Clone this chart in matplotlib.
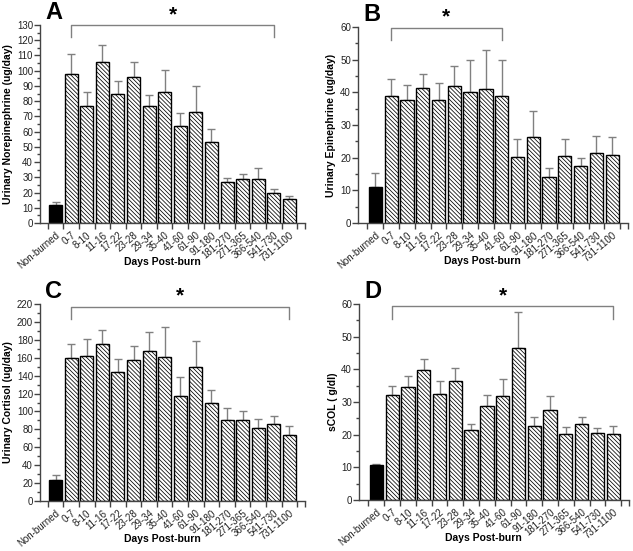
import numpy as np
import matplotlib
matplotlib.use("Agg")
import matplotlib.pyplot as plt
from matplotlib.ticker import MultipleLocator, FixedLocator

plt.rcParams['font.family'] = ['Liberation Sans', 'DejaVu Sans']
plt.rcParams['hatch.linewidth'] = 0.55
plt.rcParams['hatch.color'] = '#333333'

groups = ["Non-burned", "0-7", "8-10", "11-16", "17-22", "23-28", "29-34", "35-40",
          "41-60", "61-90", "91-180", "181-270", "271-365", "366-540", "541-730", "731-1100"]

# A: urinary norepinephrine (ug/day)
ne_mean = [12, 98, 77, 106, 84.5, 96, 76.5, 86, 64, 73, 53, 27, 29, 29, 20, 16]
ne_err = [1.5, 13, 9, 11, 9, 10, 7.5, 14.5, 8, 17, 9, 2.5, 3, 7, 2, 1.5]

# B: urinary epinephrine (ug/day)
epi_mean = [11, 38.8, 37.8, 41.3, 37.6, 41.8, 40, 41, 39, 20.2, 26.3, 14, 20.5, 17.6, 21.5, 20.7]
epi_err = [4.3, 5.2, 4.5, 4.2, 5.4, 6.4, 10, 12, 11, 5.5, 8.1, 2.8, 5.1, 2.4, 5, 5.5]

# C: urinary cortisol (ug/day)
cort_mean = [24, 160, 162, 175, 144, 157, 168, 161, 117, 150, 110, 91, 90, 82, 86, 74]
cort_err = [4.5, 15, 19, 16, 15, 16, 21, 33, 21, 29, 14, 13, 11, 10, 9, 10]

# D: sCOL (g/dl)
scol_mean = [10.6, 32, 34.7, 39.7, 32.5, 36.3, 21.4, 28.8, 31.7, 46.6, 22.7, 27.5, 20.3, 23.2, 20.6, 20.3]
scol_err = [0.3, 3, 3.3, 3.5, 3.9, 4.2, 2, 3.4, 5.2, 10.9, 2.8, 4.2, 2, 2.2, 1.4, 2.3]

panels = [
    ("A", ne_mean, ne_err, "Urinary Norepinephrine (ug/day)", 130, 10, 5, (1, 14), 130,
     [40 / 633, 1 - 223 / 551, 265 / 633, 198 / 551], (-1.0, 16.0), -0.103),
    ("B", epi_mean, epi_err, "Urinary Epinephrine (ug/day)", 60, 10, 5, (1, 8), 59.8,
     [358 / 633, 1 - 223 / 551, 270 / 633, 196 / 551], (-1.1, 16.0), -0.08),
    ("C", cort_mean, cort_err, "Urinary Cortisol (ug/day)", 220, 20, 10, (1, 15), 217,
     [40 / 633, 1 - 501 / 551, 265 / 633, 197 / 551], (-1.0, 16.0), -0.103),
    ("D", scol_mean, scol_err, "sCOL ( g/dl)", 60, 10, 5, (1, 15), 59.3,
     [359 / 633, 1 - 500 / 551, 270 / 633, 196 / 551], (-1.1, 16.0), -0.078),
]

fig = plt.figure(figsize=(6.33, 5.51), dpi=100)
axis_col = '#444444'
err_col = '#808080'

for letter, mean, err, ylabel, ymax, major, minor, span, bry, rect, xlim, ylx in panels:
    ax = fig.add_axes(rect)
    x = np.arange(len(groups))
    colors = ['black'] + ['white'] * (len(groups) - 1)
    hatches = [''] + ['\\' * 8] * (len(groups) - 1)
    bars = ax.bar(x, mean, width=0.84, color=colors, edgecolor='black', linewidth=1.0, zorder=2)
    for b, h in zip(bars, hatches):
        b.set_hatch(h)
    ax.errorbar(x, mean, yerr=[np.zeros(len(err)), err], fmt='none', ecolor=err_col,
                elinewidth=1.0, capsize=3, capthick=1.0, zorder=1)

    ax.set_xlim(*xlim)
    ax.set_ylim(0, ymax)
    ax.spines['top'].set_visible(False)
    ax.spines['right'].set_visible(False)
    for s in ('left', 'bottom'):
        ax.spines[s].set_color(axis_col)
        ax.spines[s].set_linewidth(1.0)

    ax.yaxis.set_major_locator(MultipleLocator(major))
    ax.yaxis.set_minor_locator(MultipleLocator(minor))
    ax.tick_params(axis='y', which='major', length=4, width=1, color=axis_col,
                   labelsize=7, pad=1, labelcolor='#222222')
    ax.tick_params(axis='y', which='minor', length=2, width=1, color=axis_col)

    # ticks at bar boundaries, labels at bar centres
    ax.xaxis.set_major_locator(FixedLocator(list(np.arange(-0.5, len(groups), 1.0)) + [xlim[1]]))
    ax.xaxis.set_major_formatter(plt.NullFormatter())
    ax.xaxis.set_minor_locator(FixedLocator(x))
    ax.set_xticklabels(groups, minor=True, rotation=40, ha='right', rotation_mode='anchor',
                       fontsize=7, color='#222222')
    ax.tick_params(axis='x', which='major', length=4, width=1, color=axis_col)
    ax.tick_params(axis='x', which='minor', length=0, pad=5)

    ax.set_ylabel(ylabel, fontsize=7.5, fontweight='bold')
    ax.yaxis.set_label_coords(ylx, 0.5)
    ax.set_xlabel("Days Post-burn", fontsize=7.5, fontweight='bold')
    ax.xaxis.set_label_coords(0.46, -0.17)

    # significance bracket
    x0, x1 = span
    drop = 0.063 * ymax
    ax.plot([x0, x0, x1, x1], [bry - drop, bry, bry, bry - drop], color=err_col,
            linewidth=1.0, clip_on=False, zorder=3)
    ax.text((x0 + x1) / 2, bry + 0.005 * ymax, "*", ha='center', va='bottom',
            fontsize=15, fontweight='bold', clip_on=False)

    fig.text(rect[0] + 5 / 633, rect[1] + rect[3] + 24 / 551, letter, fontsize=17,
             fontweight='bold', ha='left', va='top')

fig.savefig("out.png", dpi=100)
